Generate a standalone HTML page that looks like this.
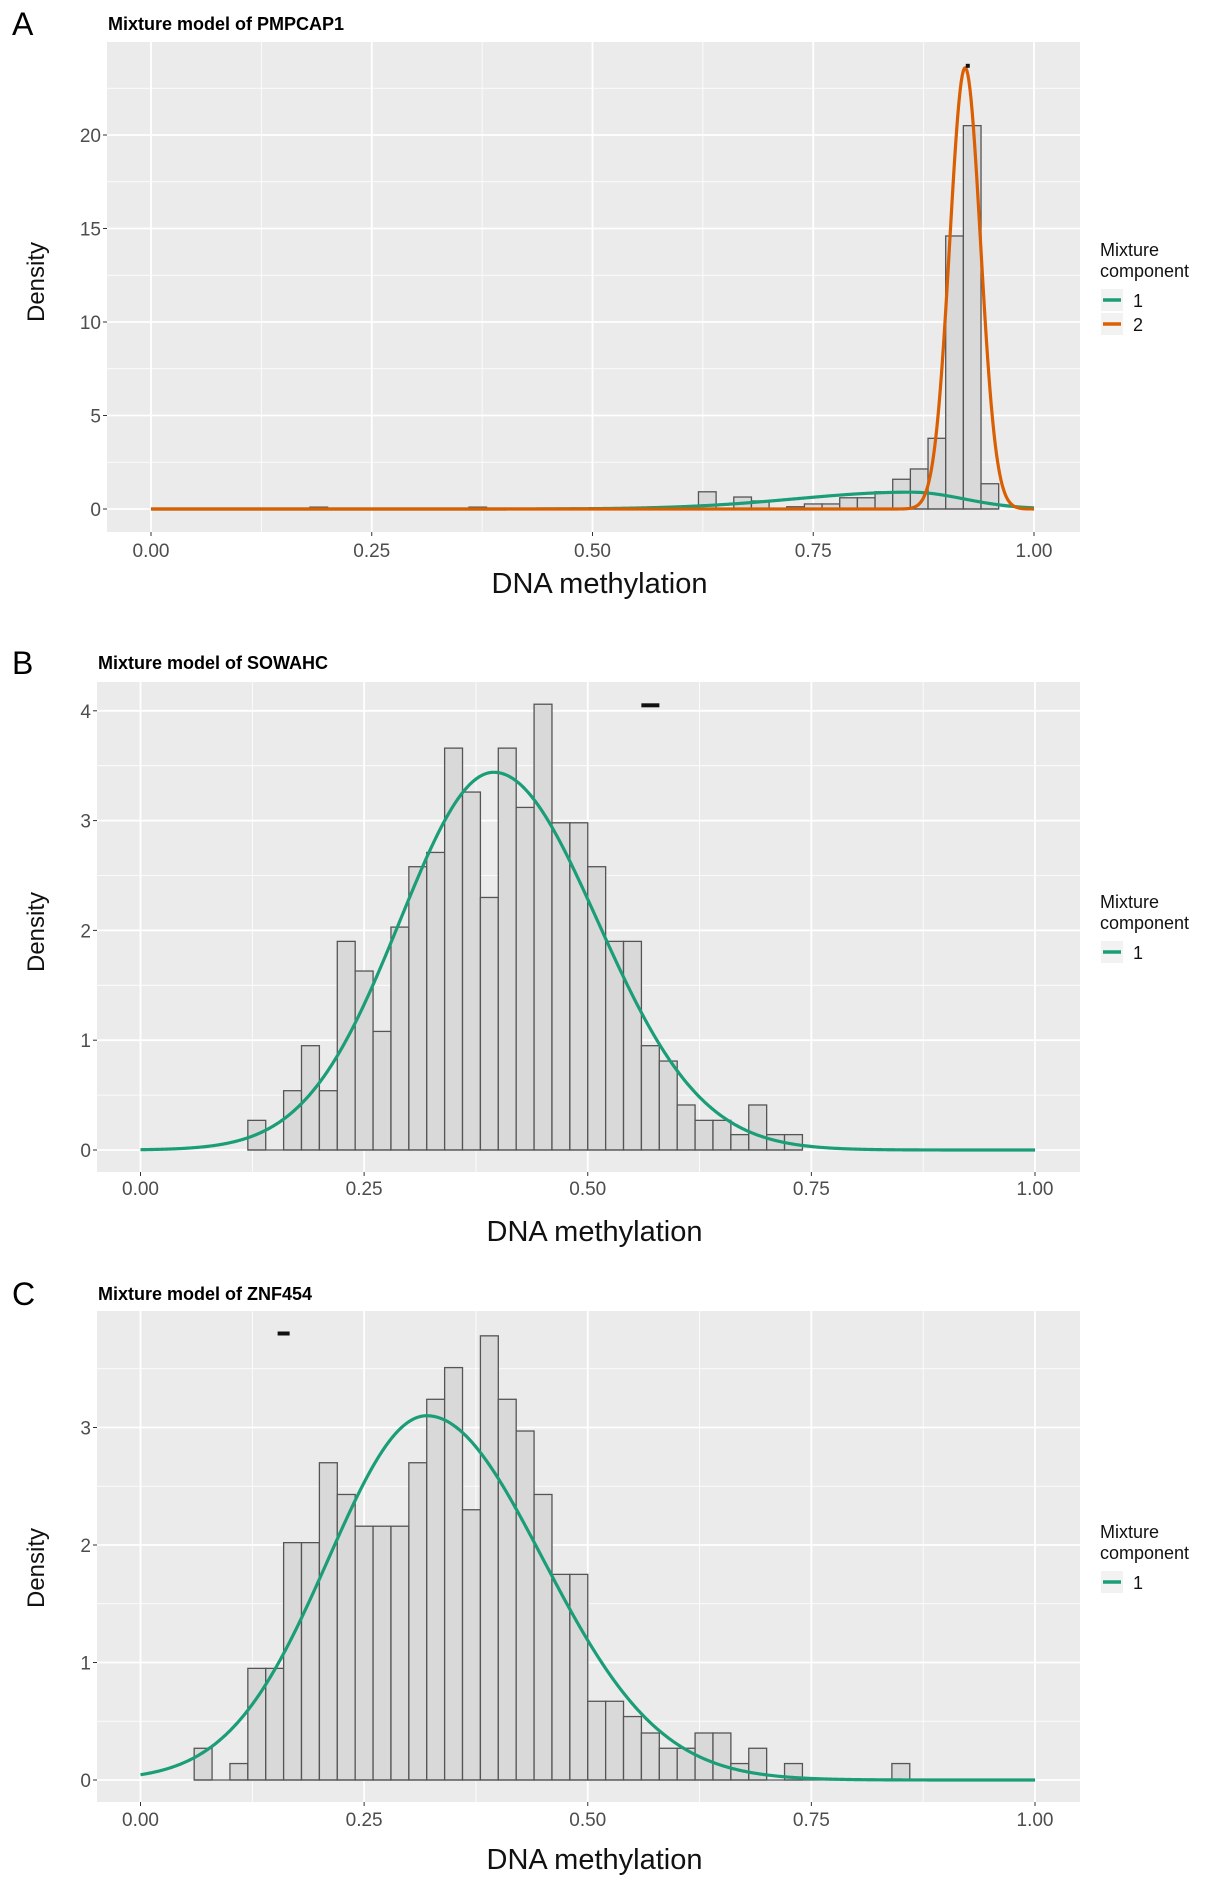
<!DOCTYPE html>
<html><head><meta charset="utf-8"><style>
html,body{margin:0;padding:0;background:#fff;}
svg{display:block;font-family:"Liberation Sans",Arial,sans-serif;}
</style></head><body>
<svg id="fig" width="1205" height="1885" viewBox="0 0 1205 1885"></svg>
<script>
// ---- Panel A data (PMPCAP1) ----
const binStartsA = [0.18,0.36,0.46,0.62,0.66,0.68,0.72,0.74,0.76,0.78,0.80,0.82,0.84,0.86,0.88,0.90,0.92,0.94];
const densityA   = [0.1,0.1,0.05,0.92,0.64,0.43,0.12,0.27,0.27,0.6,0.6,0.92,1.59,2.14,3.78,14.6,20.5,1.35];
const yTicksA = [0,5,10,15,20];
// component params: [mean, peak, sdLeft, sdRight]
const compA1 = [0.86, 0.9, 0.13, 0.06];
const compA2 = [0.922, 23.6, 0.0174, 0.0174];
// ---- Panel B data (SOWAHC) ----
const binStartsB = [0.12,0.14,0.16,0.18,0.20,0.22,0.24,0.26,0.28,0.30,0.32,0.34,0.36,0.38,0.40,0.42,0.44,0.46,0.48,0.50,0.52,0.54,0.56,0.58,0.60,0.62,0.64,0.66,0.68,0.70,0.72];
const densityB   = [0.27,0,0.54,0.95,0.54,1.9,1.63,1.08,2.03,2.58,2.71,3.66,3.26,2.3,3.66,3.12,4.06,2.98,2.98,2.58,1.9,1.9,0.95,0.81,0.41,0.27,0.27,0.14,0.41,0.14,0.14];
const yTicksB = [0,1,2,3,4];
const compB1 = [0.395, 3.44, 0.105, 0.116];
// ---- Panel C data (ZNF454) ----
const binStartsC = [0.06,0.10,0.12,0.14,0.16,0.18,0.20,0.22,0.24,0.26,0.28,0.30,0.32,0.34,0.36,0.38,0.40,0.42,0.44,0.46,0.48,0.50,0.52,0.54,0.56,0.58,0.60,0.62,0.64,0.66,0.68,0.72,0.84];
const densityC   = [0.27,0.14,0.95,0.95,2.02,2.02,2.7,2.43,2.16,2.16,2.16,2.7,3.24,3.51,2.3,3.78,3.24,2.97,2.43,1.75,1.75,0.67,0.67,0.54,0.4,0.27,0.27,0.4,0.4,0.14,0.27,0.14,0.14];
const yTicksC = [0,1,2,3];
const compC1 = [0.32, 3.1, 0.11, 0.13];
const xTicks = [0,0.25,0.5,0.75,1];
const xTickLabels = ["0.00","0.25","0.50","0.75","1.00"];
const binWidth = 0.02;

const NS="http://www.w3.org/2000/svg";
const svg=document.getElementById('fig');
function mk(tag,attrs,parent,text){const e=document.createElementNS(NS,tag);for(const k in attrs)e.setAttribute(k,attrs[k]);if(text!==undefined)e.textContent=text;(parent||svg).appendChild(e);return e;}
const GREEN="#1b9e77",ORANGE="#d95f02";

function comp(p,x){const sd=x<p[0]?p[2]:p[3];return p[1]*Math.exp(-Math.pow((x-p[0])/sd,2)/2);}

function panel(cfg){
  const g=mk('g',{});
  
  
  const X=v=>cfg.x0+v*(cfg.x1-cfg.x0);
  const Y=v=>cfg.y0-v*cfg.pu;
  const lt=mk('text',{x:12,y:cfg.titleY+11,'font-size':32,fill:'#000'},g,cfg.letter);
  
  const tt=mk('text',{x:cfg.bgL+1,y:cfg.titleY+6,'font-size':18,'font-weight':'bold',fill:'#000'},g,cfg.title);
  
  const bg=mk('rect',{x:cfg.bgL,y:cfg.bgT,width:cfg.bgR-cfg.bgL,height:cfg.bgB-cfg.bgT,fill:'#ebebeb'},g);
  
  const yt=cfg.yTicks, step=yt[1]-yt[0];
  for(let v=yt[0]-step/2; v<=yt[yt.length-1]+step; v+=step/2){
    const yy=Y(v); if(yy<cfg.bgT||yy>cfg.bgB) continue;
    const major=Math.abs((v/step)-Math.round(v/step))<1e-6;
    mk('line',{x1:cfg.bgL,x2:cfg.bgR,y1:yy,y2:yy,stroke:'#fff','stroke-width':major?1.8:0.8},g);
  }
  for(let v=-0.125; v<=1.13; v+=0.125){
    const xx=X(v); if(xx<cfg.bgL||xx>cfg.bgR) continue;
    const major=Math.abs(v*4-Math.round(v*4))<1e-6;
    mk('line',{x1:xx,x2:xx,y1:cfg.bgT,y2:cfg.bgB,stroke:'#fff','stroke-width':major?1.8:0.8},g);
  }
  cfg.bins.forEach((b,i)=>{
    const d=cfg.dens[i];
    const r=mk('rect',{x:X(b),y:Y(d),width:X(b+binWidth)-X(b),height:Math.max(0,Y(0)-Y(d)),fill:'#d9d9d9',stroke:'#555','stroke-width':1.3},g);
    
    
  });
  const bl=mk('line',{x1:X(cfg.bins[0]),x2:X(cfg.bins[cfg.bins.length-1]+binWidth),y1:Y(0),y2:Y(0),stroke:'#555','stroke-width':1.3},g);
  
  cfg.comps.forEach((c,ci)=>{
    let d='';
    for(let i=0;i<=800;i++){const v=i/800;d+=(i?'L':'M')+X(v).toFixed(2)+','+Y(comp(c.p,v)).toFixed(2);}
    const p=mk('path',{d:d,fill:'none',stroke:c.col,'stroke-width':3.2,'stroke-linejoin':'round'},g);
    
    
  });
  if(cfg.dash){const m=mk('rect',{x:X(cfg.dash[0])-cfg.dash[2]/2,y:Y(cfg.dash[1])-2,width:cfg.dash[2],height:4,fill:'#111'},g);
    }
  yt.forEach(v=>{
    mk('line',{x1:cfg.bgL-4,x2:cfg.bgL,y1:Y(v),y2:Y(v),stroke:'#333','stroke-width':1},g);
    const t=mk('text',{x:cfg.bgL-6,y:Y(v)+7,'font-size':19,fill:'#4d4d4d','text-anchor':'end'},g,String(v));
    
  });
  xTicks.forEach((v,i)=>{
    mk('line',{x1:X(v),x2:X(v),y1:cfg.bgB,y2:cfg.bgB+4,stroke:'#333','stroke-width':1},g);
    const t=mk('text',{x:X(v),y:cfg.xtY+7,'font-size':19,fill:'#4d4d4d','text-anchor':'middle'},g,xTickLabels[i]);
    
  });
  const xa=mk('text',{x:(cfg.bgL+cfg.bgR)/2+6,y:cfg.xaY+10,'font-size':29,fill:'#111','text-anchor':'middle'},g,'DNA methylation');
  
  const ya=mk('text',{x:0,y:0,'font-size':24,fill:'#111','text-anchor':'middle',transform:`translate(${cfg.yaX+9},${cfg.yaY}) rotate(-90)`},g,'Density');
  
  const lg=mk('g',{},g);
  
  mk('text',{x:1100,y:cfg.legY+6,'font-size':18,fill:'#111'},lg,'Mixture');
  mk('text',{x:1100,y:cfg.legY+27,'font-size':18,fill:'#111'},lg,'component');
  cfg.comps.forEach((c,ci)=>{
    const ky=cfg.legY+50+ci*24;
    mk('rect',{x:1101,y:ky-11,width:22,height:22,fill:'#f2f2f2'},lg);
    const l=mk('line',{x1:1103,x2:1121,y1:ky,y2:ky,stroke:c.col,'stroke-width':3.5},lg);
    
    const t=mk('text',{x:1133,y:ky+7,'font-size':18,fill:'#111'},lg,String(ci+1));
    
  });
}

panel({key:'pmpcap1',letter:'A',title:'Mixture model of PMPCAP1',bins:binStartsA,dens:densityA,yTicks:yTicksA,
  comps:[{p:compA1,col:GREEN},{p:compA2,col:ORANGE}],
  x0:151,x1:1034,y0:509,pu:18.7,bgL:107,bgR:1080,bgT:42,bgB:532,titleY:24,xtY:550,xaY:583,yaX:35,yaY:282,legY:250,
  dash:[0.925,23.7,4]});
panel({key:'sowahc',letter:'B',title:'Mixture model of SOWAHC',bins:binStartsB,dens:densityB,yTicks:yTicksB,
  comps:[{p:compB1,col:GREEN}],
  x0:140.5,x1:1035,y0:1150,pu:109.8,bgL:97,bgR:1080,bgT:682,bgB:1172,titleY:663,xtY:1188,xaY:1231,yaX:35,yaY:932,legY:902,
  dash:[0.57,4.05,18]});
panel({key:'znf454',letter:'C',title:'Mixture model of ZNF454',bins:binStartsC,dens:densityC,yTicks:yTicksC,
  comps:[{p:compC1,col:GREEN}],
  x0:140.5,x1:1035,y0:1780,pu:117.5,bgL:97,bgR:1080,bgT:1311,bgB:1802,titleY:1294,xtY:1819,xaY:1859,yaX:35,yaY:1568,legY:1532,
  dash:[0.16,3.8,12]});
</script>
</body></html>
